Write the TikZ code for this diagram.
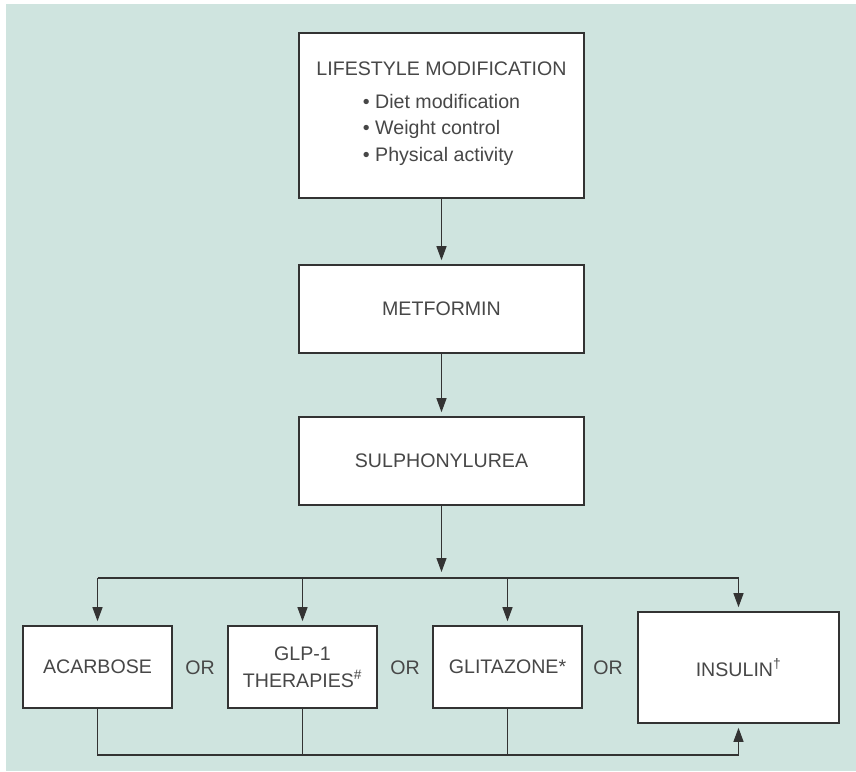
\documentclass[tikz,border=0pt]{standalone}
\usepackage{fontspec}
\setmainfont{Liberation Sans}
\usetikzlibrary{arrows.meta}
\definecolor{panel}{HTML}{CFE4DF}
\definecolor{ink}{HTML}{333333}
\begin{document}
\begin{tikzpicture}[
x=1pt,y=-1pt,
font=\fontsize{19.6}{26.5}\selectfont,
box/.style={draw=ink,line width=1.6pt,fill=white,text=ink!90,inner sep=0pt,align=center},
word/.style={text=ink!90,inner sep=0pt},
link/.style={draw=ink,line width=1.1pt},
arr/.style={link,-{Triangle[length=14pt,width=10pt]},shorten >=4pt},
]
\useasboundingbox (0,0) rectangle (856,771);
\fill[panel] (6,4) rectangle (856,771);
% column of steps
\node[box,minimum width=285pt,minimum height=165pt] (life) at (441.5,115.5)
    {LIFESTYLE MODIFICATION\\[13pt]
     \begin{tabular}{@{}l@{}}
     • Diet modification\\ • Weight control\\ • Physical activity
     \end{tabular}};
\node[box,minimum width=285pt,minimum height=88pt] (met) at (441.5,309) {METFORMIN};
\node[box,minimum width=285pt,minimum height=88pt] (sul) at (441.5,461) {SULPHONYLUREA};
% choices
\node[box,minimum width=149pt,minimum height=82pt] (aca) at (97.5,667) {ACARBOSE};
\node[box,minimum width=149pt,minimum height=82pt] (glp) at (302.5,667) {GLP-1\\THERAPIES\textsuperscript{\#}};
\node[box,minimum width=149pt,minimum height=82pt] (gli) at (507.5,667) {GLITAZONE*};
\node[box,minimum width=201pt,minimum height=111pt] (ins) at (738.5,667.5) {INSULIN\textsuperscript{†}};
\node[word] (or1) at (200,668) {OR};
\node[word] (or2) at (405,668) {OR};
\node[word] (or3) at (608,668) {OR};
% joints
\coordinate (split) at (441.5,578);
\coordinate (join) at (738.5,755);
\draw[arr] (life) -- (met);
\draw[arr] (met) -- (sul);
\draw[arr,shorten >=6pt] (sul) -- (split);
\draw[link] (aca.north |- split) -- (ins.north |- split);
\foreach \n in {aca,glp,gli,ins}
  \draw[arr] (\n.north |- split) -- (\n.north);
\draw[link] (aca.south) -- (aca.south |- join) -- (join);
\draw[link] (glp.south) -- (glp.south |- join);
\draw[link] (gli.south) -- (gli.south |- join);
\draw[arr] (join) -- (ins.south);
\end{tikzpicture}
\end{document}
